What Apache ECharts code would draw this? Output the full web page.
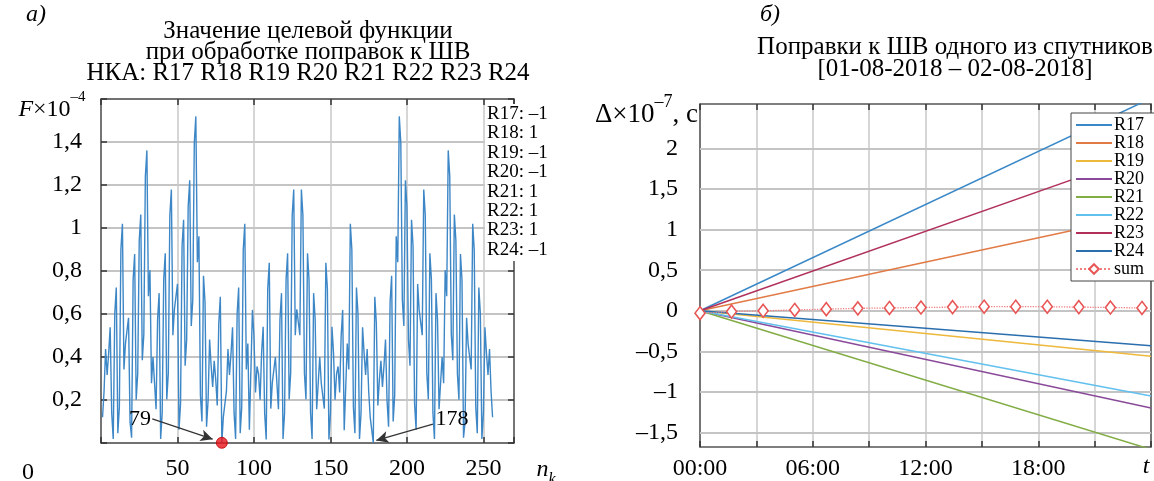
<!DOCTYPE html>
<html><head><meta charset="utf-8">
<script src="https://cdn.jsdelivr.net/npm/echarts@6/dist/echarts.min.js"></script>
<style>html,body{margin:0;padding:0;background:#fff}#c{width:1154px;height:481px}</style>
</head><body><div id="c"></div>
<script>
// ---------- Panel a: objective function F (x10^-4) vs n_k ----------
const F = [
0.120,0.241,0.437,0.316,0.417,0.538,0.140,0.019,0.602,0.723,0.045,0.166,0.899,1.020,0.342,0.463,
0.460,0.582,0.097,0.025,0.758,0.879,0.201,0.322,0.942,1.063,0.385,0.506,1.240,1.361,0.683,0.804,
0.278,0.400,0.278,0.157,0.576,0.697,0.019,0.140,0.760,0.882,0.203,0.325,1.058,1.179,0.501,0.622,
0.619,0.740,0.062,0.183,0.916,1.038,0.359,0.481,1.101,1.222,0.544,0.665,1.398,1.519,0.841,0.962,
0.221,0.100,0.778,0.657,0.076,0.198,0.481,0.359,0.261,0.382,0.296,0.175,0.558,0.680,0.001,0.123,
0.120,0.241,0.437,0.316,0.417,0.538,0.140,0.019,0.602,0.723,0.045,0.166,0.899,1.020,0.342,0.463,
0.062,0.059,0.619,0.498,0.235,0.356,0.322,0.201,0.420,0.541,0.137,0.016,0.717,0.838,0.160,0.281,
0.278,0.400,0.278,0.157,0.576,0.697,0.019,0.140,0.760,0.882,0.203,0.325,1.058,1.179,0.501,0.622,
0.622,0.501,1.179,1.058,0.325,0.203,0.882,0.760,0.140,0.019,0.697,0.576,0.157,0.278,0.400,0.278,
0.281,0.160,0.838,0.717,0.016,0.137,0.541,0.420,0.201,0.322,0.356,0.235,0.498,0.619,0.059,0.062,
0.463,0.342,1.020,0.899,0.166,0.045,0.723,0.602,0.019,0.140,0.538,0.417,0.316,0.437,0.241,0.120,
0.123,0.001,0.680,0.558,0.175,0.296,0.382,0.261,0.359,0.481,0.198,0.076,0.657,0.778,0.100,0.221,
0.962,0.841,1.519,1.398,0.665,0.544,1.222,1.101,0.481,0.359,1.038,0.916,0.183,0.062,0.740,0.619,
0.622,0.501,1.179,1.058,0.325,0.203,0.882,0.760,0.140,0.019,0.697,0.576,0.157,0.278,0.400,0.278,
0.804,0.683,1.361,1.240,0.506,0.385,1.063,0.942,0.322,0.201,0.879,0.758,0.025,0.097,0.582,0.460,
0.463,0.342,1.020,0.899,0.166,0.045,0.723,0.602,0.019,0.140,0.538,0.417,0.316,0.437,0.241,0.120
];
const minN = [79, 178];
const satNames = ['R17','R18','R19','R20','R21','R22','R23','R24'];
const satSigns = [-1, 1, -1, -1, 1, 1, 1, -1];
const leftTitle = ['Значение целевой функции', 'при обработке поправок к ШВ', 'НКА: R17 R18 R19 R20 R21 R22 R23 R24'];
const leftYTicks = [0.2, 0.4, 0.6, 0.8, 1, 1.2, 1.4];

// ---------- Panel b: clock corrections (x10^-7 s) vs time (h) ----------
const tHours = [0, 24];
const R17 = [0, 2.62];
const R18 = [0, 1.20];
const R19 = [0, -0.56];
const R20 = [0, -1.20];
const R21 = [0, -1.71];
const R22 = [0, -1.05];
const R23 = [0, 1.96];
const R24 = [0, -0.43];
const sumT = [0, 1.68, 3.36, 5.04, 6.72, 8.4, 10.08, 11.76, 13.44, 15.12, 16.8, 18.48, 20.16, 21.84, 23.52];
const sumV = [-0.03, -0.01, 0.0, 0.01, 0.02, 0.03, 0.035, 0.04, 0.045, 0.05, 0.05, 0.05, 0.045, 0.04, 0.035];
const rightYTicks = [-1.5, -1, -0.5, 0, 0.5, 1, 1.5, 2];
const timeLabels = ['00:00', '06:00', '12:00', '18:00'];
const rightTitle = ['Поправки к ШВ одного из спутников', '[01-08-2018 – 02-08-2018]'];

const FF = 'Liberation Serif';
const AX = '#555';
const GRIDC = '#c9c9c9';
const fmt = v => {
  const s = String(+(+v).toFixed(2)).replace('.', ',');
  return s.replace('-', '–');
};
const zip = (xs, ys) => xs.map((x, i) => [x, ys[i]]);

const chart = echarts.init(document.getElementById('c'));

const labelStyle = {fontFamily: FF, fontSize: 24, color: '#000'};
const tickStyle = () => ({show: true, inside: true, length: 6, lineStyle: {color: '#333', width: 1.5}});
const lineAx = () => ({show: true, onZero: false, lineStyle: {color: AX, width: 1.5}});
const splitL = () => ({show: true, lineStyle: {color: GRIDC, width: 1.5, type: 'solid', opacity: 1}});
const splitH = () => ({show: true, lineStyle: {color: '#c4c4c4', width: 2, type: 'solid', opacity: 1}});
// horizontal grid lines, placed through the y-axis scale
const hGrid = ys => ({
  silent: true, symbol: 'none', z: 1, label: {show: false}, emphasis: {disabled: true},
  lineStyle: {color: '#c4c4c4', width: 2, type: 'solid'},
  data: ys.map(v => ({yAxis: v}))
});

const rColors = ['#3a88c8', '#e07b45', '#edb93c', '#8a4a9a', '#82ad45', '#62c0ee', '#b0305a', '#2b6eae'];
const rSeries = [R17, R18, R19, R20, R21, R22, R23, R24].map((vals, i) => {
  const s = {
    name: satNames[i], type: 'line', xAxisIndex: 2, yAxisIndex: 2, data: zip(tHours, vals),
    symbol: 'none', lineStyle: {color: rColors[i], width: 1.5}, itemStyle: {color: rColors[i]}, z: 3
  };
  if (i === 7) s.markLine = hGrid(rightYTicks);
  return s;
});

const text = (t, x, y, extra) => ({type: 'text', x, y, z: 50, style: Object.assign({
  text: t, fontFamily: FF, fontSize: 24, fill: '#000', align: 'center', verticalAlign: 'middle'}, extra || {})});

const graphics = [
  text('а)', 36, 15, {fontStyle: 'italic'}),
  ...leftTitle.map((t, i) => text(t, 308, 31 + i * 21, {fontSize: 25})),
  text('{i|F}{b|×10}{s|–4}', 52, 106, {rich: {
    i: {fontFamily: FF, fontSize: 24, fontStyle: 'italic', verticalAlign: 'bottom', lineHeight: 32},
    b: {fontFamily: FF, fontSize: 24, verticalAlign: 'bottom', lineHeight: 32},
    s: {fontFamily: FF, fontSize: 15, verticalAlign: 'top', lineHeight: 15}}}),
  text('0', 28, 473),
  text('{i|n}{k|k}', 546, 473, {rich: {
    i: {fontFamily: FF, fontSize: 24, fontStyle: 'italic', verticalAlign: 'top', lineHeight: 30},
    k: {fontFamily: FF, fontSize: 16, fontStyle: 'italic', verticalAlign: 'bottom', lineHeight: 16}}}),
  {type: 'rect', z: 40, shape: {x: 485, y: 104, width: 72, height: 157}, style: {fill: '#fff'}},
  ...satNames.map((n, i) => text(n + ': ' + (satSigns[i] < 0 ? '–1' : '1'), 487, 114 + i * 19.4,
    {fontSize: 19, align: 'left'})),
  text('б)', 770, 15, {fontStyle: 'italic'}),
  ...rightTitle.map((t, i) => text(t, 955, 47 + i * 22, {fontSize: 25})),
  text('{a|Δ×10}{s|–7}{a|, с}', 698, 111, {align: 'right', rich: {
    a: {fontFamily: FF, fontSize: 27, verticalAlign: 'bottom', lineHeight: 35},
    s: {fontFamily: FF, fontSize: 18, verticalAlign: 'top', lineHeight: 18}}}),
  text('t', 1146, 467, {fontStyle: 'italic'})
];

const option = {
  animation: false,
  backgroundColor: '#fff',
  grid: [
    {left: 101, top: 99, width: 413, height: 348, show: false},
    {left: 700, top: 104, width: 458, height: 345, show: false}
  ],
  xAxis: [
    {gridIndex: 0, type: 'value', min: 0, max: 270, interval: 50,
     axisLine: lineAx(), axisTick: tickStyle(), splitLine: splitL(),
     axisLabel: Object.assign({margin: 14, formatter: v => (v > 0 && v % 50 === 0) ? String(v) : ''}, labelStyle)},
    {gridIndex: 0, type: 'value', position: 'top', min: 0, max: 270, interval: 50,
     axisLine: lineAx(), axisTick: tickStyle(), splitLine: {show: false}, axisLabel: {show: false}},
    {gridIndex: 1, type: 'value', min: 0, max: 24, interval: 3,
     axisLine: lineAx(), axisTick: tickStyle(), splitLine: splitL(),
     axisLabel: Object.assign({margin: 10, formatter: v => (v % 6 === 0 && v < 24) ? timeLabels[v / 6] : ''}, labelStyle)},
    {gridIndex: 1, type: 'value', position: 'top', min: 0, max: 24, interval: 3,
     axisLine: lineAx(), axisTick: tickStyle(), splitLine: {show: false}, axisLabel: {show: false}}
  ],
  yAxis: [
    {gridIndex: 0, type: 'value', min: 0, max: 1.6, interval: 0.2,
     axisLine: lineAx(), axisTick: tickStyle(), splitLine: splitH(),
     axisLabel: Object.assign({margin: 19, padding: [12, 0, 0, 0], formatter: v => (v > 0.05 && v < 1.55) ? fmt(v) : ''}, labelStyle)},
    {gridIndex: 0, type: 'value', position: 'right', min: 0, max: 1.6, interval: 0.2,
     axisLine: lineAx(), axisTick: tickStyle(), splitLine: {show: false}, axisLabel: {show: false}},
    {gridIndex: 1, type: 'value', min: -1.68, max: 2.55,
     axisLine: lineAx(), axisTick: Object.assign(tickStyle(), {customValues: rightYTicks}),
     splitLine: {show: false},
     axisLabel: Object.assign({margin: 22, padding: [6, 0, 0, 0], customValues: rightYTicks, formatter: v => fmt(v)}, labelStyle)},
    {gridIndex: 1, type: 'value', position: 'right', min: -1.68, max: 2.55,
     axisLine: lineAx(), axisTick: Object.assign(tickStyle(), {customValues: rightYTicks}),
     splitLine: {show: false}, axisLabel: {show: false}}
  ],
  legend: {
    data: satNames.map(n => ({name: n, itemStyle: {opacity: 0}})).concat([{name: 'sum'}]),
    orient: 'vertical', left: 1071, top: 113,
    itemWidth: 36, itemHeight: 12, itemGap: 0,
    backgroundColor: '#fff', borderColor: '#444', borderWidth: 1, padding: [3, 30, 3, 4],
    textStyle: {fontFamily: FF, fontSize: 18, color: '#000', lineHeight: 16.7, padding: [0, 0, 0, -3]}, z: 20
  },
  series: [
    {name: 'F', type: 'line', xAxisIndex: 0, yAxisIndex: 0,
     data: F.map((v, i) => [i + 1, v]), symbol: 'none',
     lineStyle: {color: '#3d87c7', width: 1.4}, z: 3,
     markLine: {silent: true, symbol: ['none', 'arrow'], symbolSize: [9, 12],
       lineStyle: {color: '#333', width: 1.2, type: 'solid'}, label: {show: false},
       data: [
         [{coord: [33.5, 0.112]}, {coord: [73, 0.018]}],
         [{coord: [217, 0.088]}, {coord: [180, 0.012]}]
       ]},
     markPoint: {silent: true, symbol: 'circle', symbolSize: 0,
       label: {show: true, fontFamily: FF, fontSize: 22, color: '#000', formatter: p => p.name},
       data: [
         {name: String(minN[0]), coord: [25.5, 0.112]},
         {name: String(minN[1]), coord: [229.5, 0.112]}
       ]}
    },
    {name: 'min', type: 'scatter', xAxisIndex: 0, yAxisIndex: 0,
     data: [[minN[0], F[minN[0] - 1]]], symbolSize: 11,
     itemStyle: {color: '#e8141c', borderColor: '#b00', borderWidth: 1}, z: 6},
    ...rSeries,
    {name: 'sum', type: 'line', xAxisIndex: 2, yAxisIndex: 2, data: zip(sumT, sumV),
     symbol: 'diamond', symbolSize: [10, 13], showAllSymbol: true,
     lineStyle: {color: '#f07f7f', width: 1.3, type: 'dotted'},
     itemStyle: {color: '#fff', borderColor: '#e85555', borderWidth: 1.6}, z: 4}
  ],
  graphic: graphics
};
chart.setOption(option);
</script>
</body></html>
